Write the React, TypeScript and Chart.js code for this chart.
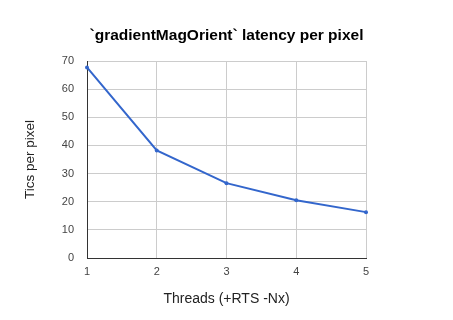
import React, { useEffect, useRef } from "react";
import { Chart, registerables } from "chart.js";

Chart.register(...registerables);

const threads = ["1", "2", "3", "4", "5"];
const ticsPerPixel = [67.7, 38.2, 26.6, 20.5, 16.3];
const chartTitle = "`gradientMagOrient` latency per pixel";
const xTitle = "Threads (+RTS -Nx)";
const yTitle = "Tics per pixel";

const FONT = "Arial, 'Liberation Sans', sans-serif";

export default function App() {
  const ref = useRef<HTMLCanvasElement | null>(null);
  useEffect(() => {
    if (!ref.current) return;
    const chart = new Chart(ref.current, {
      type: "line",
      data: {
        labels: threads,
        datasets: [
          {
            data: ticsPerPixel,
            borderColor: "#3366cc",
            backgroundColor: "#3366cc",
            borderWidth: 2,
            pointRadius: 2,
            pointBorderWidth: 0,
            tension: 0,
            fill: false,
            yAxisID: "y",
          },
        ],
      },
      options: {
        animation: false,
        responsive: false,
        devicePixelRatio: 1,
        layout: { padding: 0 },
        plugins: {
          legend: { display: false },
          tooltip: { enabled: false },
          title: {
            display: true,
            text: chartTitle,
            color: "#000",
            font: { family: FONT, size: 15.5, weight: "bold", lineHeight: 1.2 },
            padding: { top: 26, bottom: 16.4 },
          },
        },
        scales: {
          x: {
            type: "category",
            offset: false,
            afterFit: (s: any) => {
              s.height = 62;
            },
            grid: { color: "#cccccc", drawTicks: false, tickLength: 0 },
            border: { color: "#333333", width: 1 },
            ticks: {
              color: "#444",
              font: { family: FONT, size: 11 },
              padding: 7,
              maxRotation: 0,
            },
            title: {
              display: true,
              text: xTitle,
              color: "#222",
              font: { family: FONT, size: 14, lineHeight: 1.2 },
              padding: { top: 0, bottom: 12 },
            },
          },
          y: {
            min: 0,
            max: 70,
            afterFit: (s: any) => {
              s.width = 87;
            },
            grid: { color: "#cccccc", drawTicks: false, tickLength: 0 },
            border: { color: "#333333", width: 1 },
            ticks: {
              stepSize: 10,
              color: "#444",
              font: { family: FONT, size: 11 },
              padding: 13,
            },
            title: {
              display: true,
              text: yTitle,
              color: "#222",
              font: { family: FONT, size: 13.5, lineHeight: 1.2 },
              padding: { top: 22, bottom: 0 },
            },
          },
          yRight: {
            position: "right",
            min: 0,
            max: 70,
            afterFit: (s: any) => {
              s.width = 87;
            },
            grid: { display: false, drawOnChartArea: false },
            border: { display: false },
            ticks: { display: false },
          },
        },
      },
    });
    return () => chart.destroy();
  }, []);
  return (
    <div style={{ position: "fixed", left: 0, top: 0, width: 453, height: 320, background: "#fff" }}>
      <canvas ref={ref} width={453} height={320} style={{ display: "block" }} />
    </div>
  );
}
